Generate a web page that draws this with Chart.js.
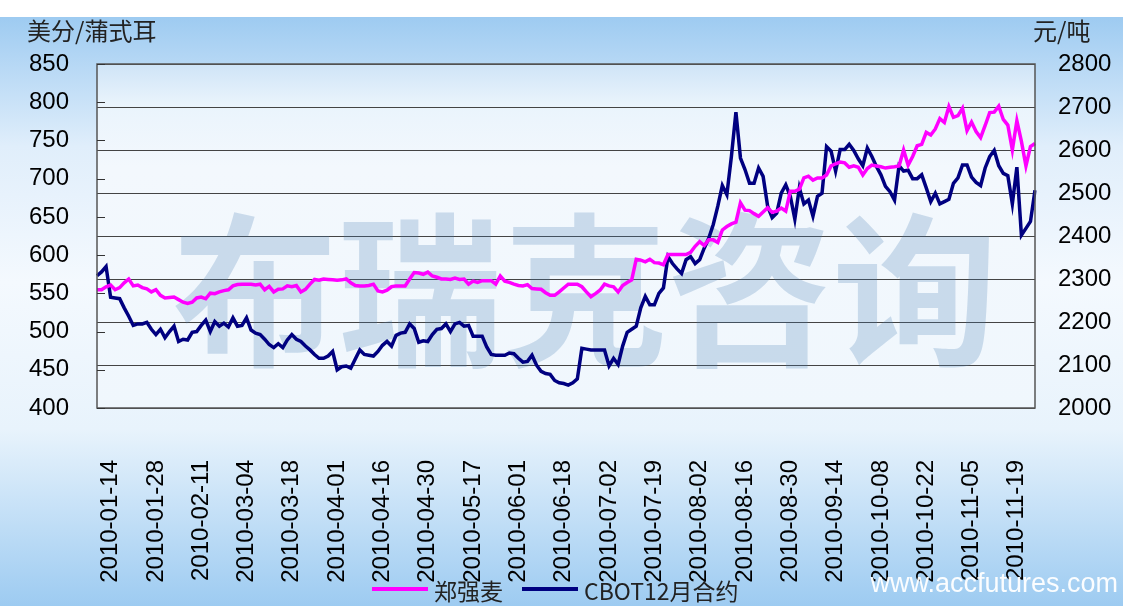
<!DOCTYPE html>
<html>
<head>
<meta charset="utf-8">
<script src="https://cdn.jsdelivr.net/npm/chart.js@4.4.1/dist/chart.umd.min.js"></script>
<style>
html, body { margin: 0; padding: 0; background: #fff; }
#wrap { width: 1123px; height: 606px; }
</style>
</head>
<body>
<div id="wrap"><canvas id="wheatChart" width="1123" height="606"></canvas></div>
<script>
// ========== 数据 ==========
const startDate = '2010-01-11'; // 第一个交易日
const closedDays = [ // 休市日（国内节假日及部分美盘假日）
    '2010-02-15', '2010-02-16', '2010-02-17', '2010-02-18', '2010-02-19',
    '2010-04-05', '2010-05-03', '2010-05-31',
    '2010-06-14', '2010-06-15', '2010-06-16', '2010-07-05', '2010-09-06',
    '2010-09-22', '2010-09-23', '2010-09-24',
    '2010-10-01', '2010-10-04', '2010-10-05', '2010-10-06', '2010-10-07'
];
const labelStart = 3;  // 第一个显示的日期标签
const labelEvery = 10; // 每10个交易日一个标签

// 郑强麦 元/吨（右轴）
const zzWheat = [
    2275, 2275, 2282, 2286, 2275, 2280, 2291, 2300, 2284, 2286,
    2280, 2277, 2270, 2275, 2262, 2256, 2257, 2258, 2252, 2246,
    2243, 2246, 2256, 2258, 2254, 2267, 2266, 2270, 2273, 2275,
    2284, 2287, 2288, 2288, 2288, 2286, 2288, 2275, 2283, 2270,
    2276, 2277, 2284, 2282, 2285, 2270, 2276, 2288, 2299, 2297,
    2300, 2299, 2298, 2297, 2298, 2300, 2291, 2285, 2284, 2284,
    2285, 2288, 2272, 2270, 2274, 2282, 2284, 2284, 2284, 2300,
    2315, 2314, 2311, 2316, 2307, 2304, 2300, 2300, 2299, 2302,
    2299, 2300, 2288, 2295, 2292, 2296, 2296, 2296, 2288, 2307,
    2295, 2292, 2288, 2285, 2284, 2287, 2278, 2277, 2276, 2268,
    2262, 2262, 2270, 2279, 2288, 2288, 2288, 2282, 2270, 2259,
    2266, 2274, 2288, 2284, 2282, 2270, 2285, 2292, 2298, 2346,
    2344, 2340, 2346, 2338, 2337, 2333, 2357, 2357, 2357, 2357,
    2357, 2362, 2376, 2387, 2378, 2391, 2391, 2385, 2414, 2422,
    2428, 2432, 2477, 2460, 2459, 2452, 2446, 2456, 2466, 2455,
    2458, 2465, 2458, 2504, 2504, 2509, 2535, 2539, 2530, 2535,
    2535, 2542, 2563, 2568, 2572, 2570, 2560, 2563, 2560, 2542,
    2557, 2565, 2563, 2561, 2558, 2560, 2561, 2563, 2600, 2565,
    2585, 2610, 2613, 2641, 2635, 2649, 2673, 2664, 2701, 2676,
    2680, 2697, 2645, 2665, 2643, 2629, 2657, 2687, 2688, 2702,
    2671, 2658, 2600, 2668, 2620, 2563, 2608, 2615
];

// CBOT12月合约 美分/蒲式耳（左轴）
const cbotWheat = [
    573, 578, 585, 545, 544, 543, 531, 520, 508, 510,
    510, 512, 503, 496, 503, 492, 500, 507, 487, 490,
    489, 499, 500, 508, 515, 500, 513, 507, 511, 506,
    518, 507, 508, 518, 502, 498, 496, 490, 483, 479,
    484, 479, 489, 496, 490, 487, 481, 476, 470, 465,
    465, 468, 474, 450, 454, 455, 452, 464, 476, 470,
    469, 468, 474, 482, 487, 481, 495, 498, 499, 510,
    504, 486, 488, 487, 496, 503, 504, 510, 500, 510,
    512, 507, 508, 494, 494, 494, 480, 470, 469, 469,
    469, 472, 471, 465, 460, 461, 469, 456, 448, 445,
    444, 436, 433, 432, 430, 433, 438, 478, 477, 476,
    476, 476, 476, 455, 465, 457, 481, 499, 503, 507,
    531, 546, 535, 535, 550, 557, 598, 589, 582, 576,
    594, 598, 589, 594, 609, 622, 640, 664, 691, 679,
    729, 787, 727, 712, 694, 694, 714, 703, 664, 649,
    655, 681, 692, 677, 647, 688, 667, 672, 651, 677,
    681, 742, 736, 710, 738, 738, 745, 737, 726, 717,
    740, 729, 716, 705, 690, 683, 672, 717, 710, 711,
    700, 700, 705, 688, 670, 681, 667, 670, 673, 694,
    701, 718, 718, 702, 695, 691, 714, 729, 737, 717,
    707, 704, 667, 715, 626, 635, 644, 685
];

const leftMin = 400, leftMax = 850, leftStep = 50;       // 左轴刻度
const rightMin = 2000, rightMax = 2800, rightStep = 100; // 右轴刻度

// 按交易日生成日期
function buildTradeDays(start, n) {
    const out = [];
    const d = new Date(start + 'T00:00:00Z');
    while (out.length < n) {
        const s = d.toISOString().slice(0, 10);
        const wd = d.getUTCDay();
        if (wd !== 0 && wd !== 6 && !closedDays.includes(s)) out.push(s);
        d.setUTCDate(d.getUTCDate() + 1);
    }
    return out;
}
const dates = buildTradeDays(startDate, zzWheat.length);

// ========== 背景、水印、图例等 ==========
const decoPlugin = {
    id: 'deco',
    beforeDraw(chart) {
        const { ctx, chartArea: a, width, height } = chart;
        ctx.save();
        ctx.fillStyle = '#ffffff';
        ctx.fillRect(0, 0, width, height);
        const g = ctx.createLinearGradient(0, 17, 0, height);
        g.addColorStop(0, '#9ecbf1');
        g.addColorStop(0.22, '#e0eefb');
        g.addColorStop(0.45, '#f4f9fe');
        g.addColorStop(0.7, '#e8f3fc');
        g.addColorStop(1, '#9dcbf1');
        ctx.fillStyle = g;
        ctx.fillRect(0, 17, width, height - 17);
        // 绘图区
        const g2 = ctx.createLinearGradient(0, a.top, 0, a.bottom);
        g2.addColorStop(0, '#cfe4f7');
        g2.addColorStop(0.12, '#eaf4fc');
        g2.addColorStop(0.3, '#f3f8fd');
        g2.addColorStop(1, '#f0f7fd');
        ctx.fillStyle = g2;
        ctx.fillRect(a.left, a.top, a.right - a.left, a.bottom - a.top);
        ctx.restore();
    },
    beforeDatasetsDraw(chart) {
        const { ctx } = chart;
        ctx.save();
        ctx.font = 'bold 165px "Noto Sans CJK SC"';
        ctx.fillStyle = 'rgba(70,125,180,0.24)';
        ctx.textAlign = 'center';
        ctx.textBaseline = 'middle';
        ctx.fillText('布瑞克咨询', 585, 290);
        ctx.restore();
    },
    afterDraw(chart) {
        const { ctx, chartArea: a } = chart;
        const yL = chart.scales.y;
        ctx.save();
        // 边框
        ctx.strokeStyle = '#555';
        ctx.lineWidth = 1.5;
        ctx.strokeRect(a.left, a.top, a.right - a.left, a.bottom - a.top);
        // 左轴内侧刻度线
        ctx.lineWidth = 1;
        ctx.strokeStyle = '#333';
        for (let v = leftMin; v <= leftMax; v += leftStep) {
            const y = Math.round(yL.getPixelForValue(v)) + 0.5;
            ctx.beginPath();
            ctx.moveTo(a.left, y);
            ctx.lineTo(a.left + 8, y);
            ctx.stroke();
        }
        // 单位
        ctx.fillStyle = '#222';
        ctx.font = '24px "Noto Sans CJK SC"';
        ctx.textBaseline = 'middle';
        ctx.textAlign = 'left';
        ctx.fillText('美分/蒲式耳', 27, 31);
        ctx.fillText('元/吨', 1033, 31);
        // 图例
        const items = [['郑强麦', '#ff00ff', 372], ['CBOT12月合约', '#000080', 522]];
        items.forEach(([txt, col, x]) => {
            ctx.strokeStyle = col;
            ctx.lineWidth = 4;
            ctx.beginPath();
            ctx.moveTo(x, 589);
            ctx.lineTo(x + 56, 589);
            ctx.stroke();
            ctx.fillStyle = '#222';
            ctx.font = '23px "Noto Sans CJK SC"';
            ctx.fillText(txt, x + 62, 591);
        });
        // 网址
        ctx.fillStyle = 'rgba(255,255,255,0.95)';
        ctx.font = '27px "Liberation Sans"';
        ctx.textAlign = 'right';
        ctx.fillText('www.accfutures.com', 1118, 585);
        ctx.restore();
    }
};

const tickFont = { family: '"Liberation Sans", Arial, sans-serif', size: 24 };
const plainNum = v => String(v); // 不要千分位

new Chart(document.getElementById('wheatChart'), {
    type: 'line',
    data: {
        labels: dates,
        datasets: [
            {
                label: '郑强麦',
                data: zzWheat,
                yAxisID: 'y1',
                borderColor: '#ff00ff',
                borderWidth: 3.5,
                pointRadius: 0,
                tension: 0
            },
            {
                label: 'CBOT12月合约',
                data: cbotWheat,
                yAxisID: 'y',
                borderColor: '#000080',
                borderWidth: 3.5,
                pointRadius: 0,
                tension: 0
            }
        ]
    },
    options: {
        responsive: false,
        animation: false,
        layout: { padding: { top: 64, left: 0, right: 0, bottom: 0 } },
        plugins: { legend: { display: false }, tooltip: { enabled: false } },
        scales: {
            x: {
                offset: false,
                grid: { display: false },
                border: { display: false },
                afterFit(s) { s.height = 198; },
                ticks: {
                    autoSkip: false,
                    maxRotation: 90,
                    minRotation: 90,
                    padding: 44,
                    color: '#000',
                    font: tickFont,
                    callback(v, i) {
                        return (i >= labelStart && (i - labelStart) % labelEvery === 0) ? dates[i] : '';
                    }
                }
            },
            y: {
                position: 'left',
                min: leftMin,
                max: leftMax,
                grid: { display: false },
                border: { display: false },
                afterFit(s) { s.width = 97; },
                ticks: { stepSize: leftStep, padding: 20, color: '#000', font: tickFont, callback: plainNum }
            },
            y1: {
                position: 'right',
                min: rightMin,
                max: rightMax,
                grid: { color: '#444', lineWidth: 1, drawTicks: false },
                border: { display: false },
                afterFit(s) { s.width = 88; },
                ticks: { stepSize: rightStep, padding: 23, color: '#000', font: tickFont, callback: plainNum }
            }
        }
    },
    plugins: [decoPlugin]
});
</script>
</body>
</html>
